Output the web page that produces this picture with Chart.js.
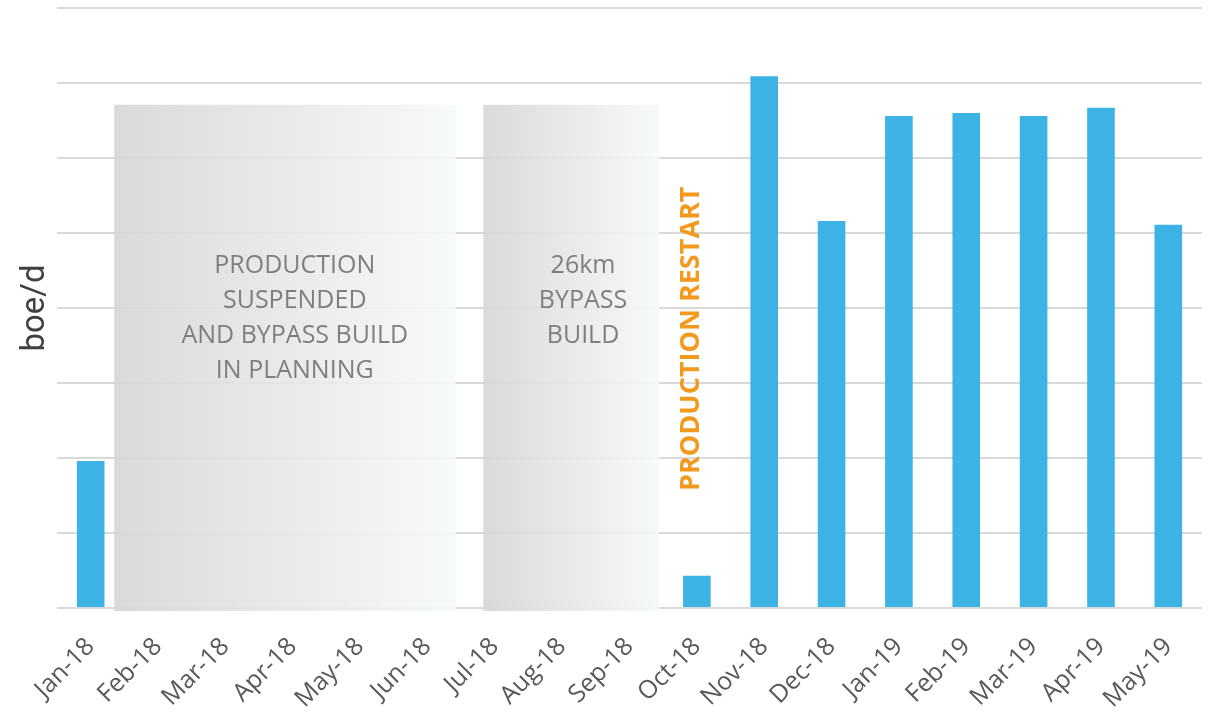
<!DOCTYPE html>
<html>
<head>
<meta charset="utf-8">
<script src="https://cdn.jsdelivr.net/npm/chart.js@4"></script>
<style>
  html, body { margin: 0; padding: 0; background: #ffffff; }
  #wrap { width: 1209px; height: 719px; }
</style>
</head>
<body>
<div id="wrap"><canvas id="prodChart" width="1209" height="719"></canvas></div>
<script>
// months on the x axis
const months = ["Jan-18", "Feb-18", "Mar-18", "Apr-18", "May-18", "Jun-18", "Jul-18", "Aug-18", "Sep-18",
  "Oct-18", "Nov-18", "Dec-18", "Jan-19", "Feb-19", "Mar-19", "Apr-19", "May-19"];

// production, boe/d (no axis numbers shown)
const production = [196, null, null, null, null, null, null, null, null,
  43, 709, 516, 656, 660, 656, 667, 511];

// y axis range / gridline step
const yMax = 800;
const yStep = 100;

// shaded periods (x in category index units, top in boe/d)
const shadeFrom = [0.35, 5.83];
const shadeTo = [5.42, 8.44];
const shadeTop = [671, 671];
const shadeText = [
  ["PRODUCTION", "SUSPENDED", "AND BYPASS BUILD", "IN PLANNING"],
  ["26km", "BYPASS", "BUILD"]
];
const shadeTextX = [3.03, 7.31];

const restartLabel = "PRODUCTION RESTART";

const shadePlugin = {
  id: "shadePlugin",
  beforeDatasetsDraw(chart) {
    const ctx = chart.ctx;
    const x = chart.scales.x;
    const y = chart.scales.y;
    ctx.save();
    for (let i = 0; i < shadeFrom.length; i++) {
      const left = x.getPixelForValue(shadeFrom[i]);
      const right = x.getPixelForValue(shadeTo[i]);
      const top = y.getPixelForValue(shadeTop[i]);
      const bottom = y.getPixelForValue(0) + 3;
      const grad = ctx.createLinearGradient(left, 0, right, 0);
      grad.addColorStop(0, "rgba(214,214,214,0.9)");
      grad.addColorStop(1, "rgba(246,249,250,0.9)");
      ctx.fillStyle = grad;
      ctx.fillRect(left, top, right - left, bottom - top);

      // text in the box
      ctx.fillStyle = "#7f7f7f";
      ctx.font = "25px 'Open Sans'";
      ctx.textAlign = "center";
      ctx.textBaseline = "middle";
      const cx = x.getPixelForValue(shadeTextX[i]);
      shadeText[i].forEach((line, j) => {
        ctx.fillText(line, cx, 266 + j * 35);
      });
    }

    // vertical orange label
    const rx = x.getPixelForValue(8.91);
    const ry = y.getPixelForValue(359);
    ctx.translate(rx, ry);
    ctx.rotate(-Math.PI / 2);
    ctx.fillStyle = "#f39a1e";
    ctx.font = "bold 27px 'Open Sans'";
    ctx.textAlign = "center";
    ctx.textBaseline = "middle";
    ctx.fillText(restartLabel, 0, 1);
    ctx.restore();
  }
};

const chartData = {
  labels: months,
  datasets: [
    {
      label: "boe/d",
      data: production,
      backgroundColor: "#3db3e5",
      borderColor: "#7fcdf0",
      borderWidth: 0,
      barPercentage: 0.41,
      categoryPercentage: 1.0,
    },
  ],
};

const chartOptions = {
  responsive: false,
  animation: false,
  layout: { padding: { top: 8, right: 7, left: 0, bottom: 0 } },
  plugins: {
    legend: { display: false },
    tooltip: { enabled: false },
  },
  scales: {
    x: {
      grid: { display: false },
      border: { display: false },
      ticks: {
        color: "#595959",
        font: { family: "'Open Sans'", size: 25 },
        maxRotation: 45,
        minRotation: 45,
        padding: 16,
        autoSkip: false,
      },
      afterFit(scale) { scale.height = 111; },
    },
    y: {
      min: 0,
      max: yMax,
      ticks: { display: false, stepSize: yStep },
      grid: { color: "#d9d9d9", lineWidth: 2, drawTicks: false },
      border: { display: false },
      title: {
        display: true,
        text: "boe/d",
        color: "#404040",
        font: { family: "Roboto", size: 33 },
        padding: { top: 16, bottom: 0 },
      },
      afterFit(scale) { scale.width = 57; },
    },
  },
};

const ctx = document.getElementById("prodChart").getContext("2d");
const prodChart = new Chart(ctx, {
  type: "bar",
  data: chartData,
  options: chartOptions,
  plugins: [shadePlugin],
});
</script>
</body>
</html>
